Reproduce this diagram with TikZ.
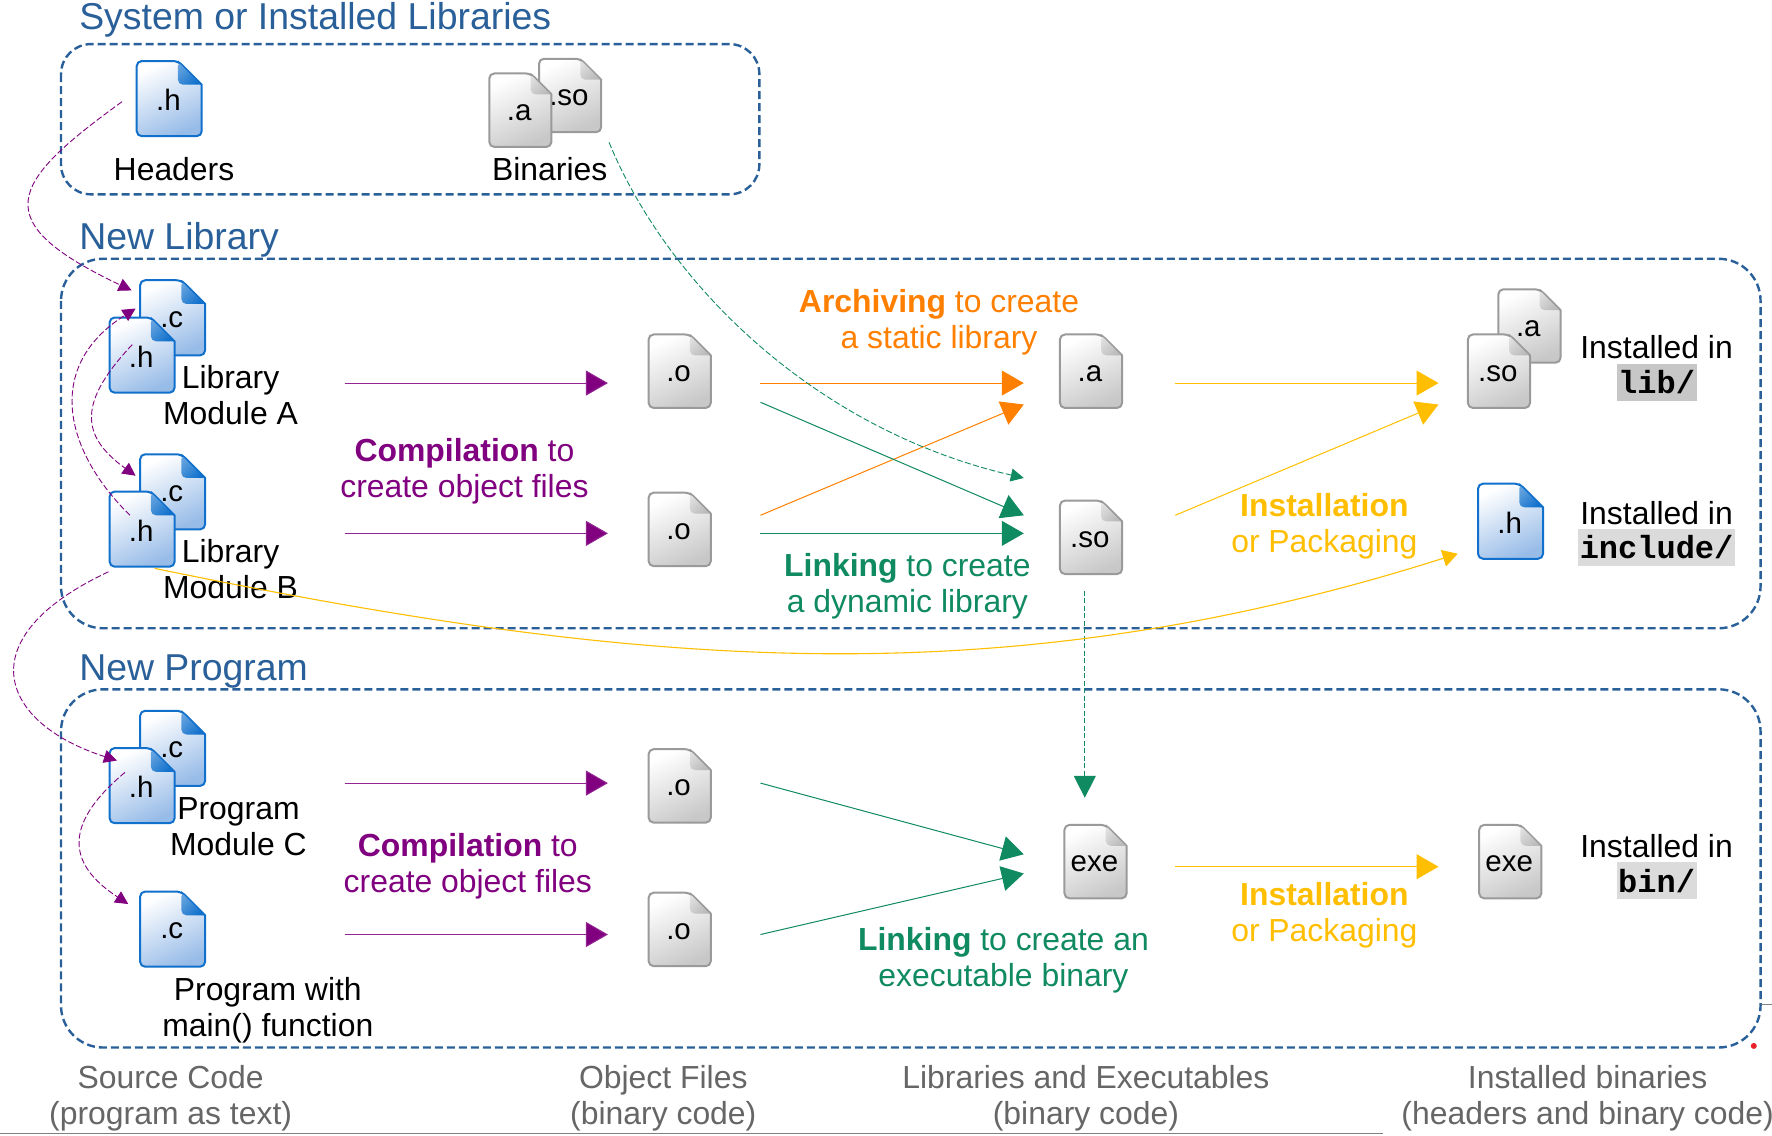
\documentclass[tikz,border=0pt]{standalone}
\usepackage{fontspec}
\setmainfont{Liberation Sans}
\setmonofont{Liberation Mono}
\usetikzlibrary{arrows.meta}
\definecolor{boxblue}{HTML}{2A6099}
\definecolor{purp}{HTML}{800080}
\definecolor{orng}{HTML}{FF8000}
\definecolor{grn}{HTML}{108A60}
\definecolor{yel}{HTML}{FFBF00}
\definecolor{capgray}{HTML}{666666}
\definecolor{iconblue}{HTML}{1070CC}
\definecolor{iconfill}{HTML}{98BCE8}
\definecolor{icongray}{HTML}{9A9A9A}
\definecolor{grayfill}{HTML}{C8C8C8}
\definecolor{dotred}{HTML}{EA2027}
\tikzset{
  txt/.style={inner sep=0pt,align=center,font=\fontsize{31.9}{36}\selectfont,text=black},
  headtxt/.style={inner sep=0pt,anchor=base west,font=\fontsize{37.4}{40}\selectfont,text=boxblue},
  captxt/.style={txt,text=capgray},
  ptxt/.style={txt,text=purp},
  otxt/.style={txt,text=orng},
  gtxt/.style={txt,text=grn},
  ytxt/.style={txt,text=yel},
  monotxt/.style={inner xsep=1.5pt,inner ysep=0pt,minimum height=37pt,font=\fontsize{32}{36}\selectfont\ttfamily\bfseries,text=black},
  iconlab/.style={inner sep=0pt,font=\fontsize{29.5}{32}\selectfont,text=black},
  groupbox/.style={draw=boxblue,line width=2.4pt,dash pattern=on 8pt off 4pt},
  flow/.style={line width=1pt,-{Triangle[length=22pt,width=25pt]}},
  thinflow/.style={line width=1.1pt,-{Triangle[length=15pt,width=17pt]}},
  dep/.style={line width=0.9pt,dash pattern=on 6pt off 2.5pt,-{Triangle[length=13pt,width=13pt]}},
  x=1.13pt,y=-1.13pt
}
\newcommand{\iconbody}[7]{% w h f outline fill foldlight folddark
  \shade[top color=white,bottom color=#5,shading angle=25]
    [rounded corners=5pt] (0,0) -- (#1-#3,0) {[sharp corners] -- (#1,#3)} -- (#1,#2) -- (0,#2) -- cycle;
  \draw[#4,line width=2pt,rounded corners=5pt,line join=round]
    (0,0) -- (#1-#3,0) {[sharp corners] -- (#1,#3)} -- (#1,#2) -- (0,#2) -- cycle;
  \shade[left color=#6,right color=#7,shading angle=45,rounded corners=5pt]
    (#1-#3,0) {[sharp corners] -- (#1,#3)} -- (#1-#3,#3) -- cycle;
  \draw[#4,line width=1pt,line join=round] (#1-#3,0) -- (#1,#3);
}
\newcommand{\blueicon}[4]{%
  \begin{scope}[shift={(#2,#3)}]
    \iconbody{57.5}{66.5}{21}{iconblue}{iconfill}{iconblue!65!white}{iconblue}
    \node[iconlab] (#1) at (28,34.5) {#4};
  \end{scope}}
\newcommand{\grayicon}[4]{%
  \begin{scope}[shift={(#2,#3)}]
    \iconbody{55}{65}{18.5}{icongray}{grayfill}{gray!25!white}{gray!55!white}
    \node[iconlab] (#1) at (26.5,34.5) {#4};
  \end{scope}}
\begin{document}
\begin{tikzpicture}
\useasboundingbox (0,0) rectangle (1568.14,1005.31);
\fill[white] (0,0) rectangle (1568.14,1005.31);
% group boxes
\draw[groupbox,rounded corners=30pt] (54,39) rectangle (672,172);
\draw[groupbox,rounded corners=42pt] (54,229) rectangle (1558,556);
\draw[groupbox,rounded corners=42pt] (54,610) rectangle (1558,927);
\node[headtxt] (hsys) at (70,26.5) {System or Installed Libraries};
\node[headtxt] (hlib) at (70,220.6) {New Library};
\node[headtxt] (hprog) at (70,601.8) {New Program};
% icons
\blueicon{sysh}{121}{54}{.h}
\grayicon{sysso}{477}{52}{.so}
\grayicon{sysa}{433}{65}{.a}
\blueicon{ca}{124}{248}{.c}
\blueicon{ha}{97}{281}{.h}
\blueicon{cb}{124}{402}{.c}
\blueicon{hb}{97}{435}{.h}
\blueicon{cc}{124}{629}{.c}
\blueicon{hc}{97}{662}{.h}
\blueicon{cmain}{124}{789}{.c}
\grayicon{oa}{574}{296}{.o}
\grayicon{ob}{574}{436}{.o}
\grayicon{oc}{574}{663}{.o}
\grayicon{od}{574}{790}{.o}
\grayicon{liba}{938}{296}{.a}
\grayicon{libso}{938}{443}{.so}
\grayicon{exe}{942}{730}{exe}
\grayicon{insta}{1326}{256}{.a}
\grayicon{instso}{1299}{296}{.so}
\blueicon{insth}{1308}{428}{.h}
\grayicon{instexe}{1309}{730}{exe}
% labels
\node[txt] (lh) at (154,150) {Headers};
\node[txt] (lb) at (486.5,150) {Binaries};
\node[txt] (lma) at (204,350) {Library\\Module A};
\node[txt] (lmb) at (204,504) {Library\\Module B};
\node[txt] (lmc) at (211,732) {Program\\Module C};
\node[txt] (lmain) at (237,894) {Program with\\main() function};
\node[ptxt] (comp1) at (411,417) {\textbf{Compilation} to\\create object files};
\node[ptxt] (comp2) at (414,767) {\textbf{Compilation} to\\create object files};
\node[otxt] (arch) at (831,285.5) {\textbf{Archiving} to create\\a static library};
\node[gtxt] (link1) at (803,519) {\textbf{Linking} to create\\a dynamic library};
\node[gtxt] (link2) at (888,850) {\textbf{Linking} to create an\\executable binary};
\node[ytxt] (inst1) at (1172,466) {\textbf{Installation}\\or Packaging};
\node[ytxt] (inst2) at (1172,810) {\textbf{Installation}\\or Packaging};
\node[txt] (il) at (1466,307.5) {Installed in};
\node[monotxt,fill=black!22] (ilm) at (1466,338.5) {lib/};
\node[txt] (ii) at (1466,454) {Installed in};
\node[monotxt,fill=black!14] (iim) at (1466,484.5) {include/};
\node[txt] (ib) at (1466,749) {Installed in};
\node[monotxt,fill=black!14] (ibm) at (1466,779.5) {bin/};
\node[captxt] (c1) at (151,972) {Source Code\\(program as text)};
\node[captxt] (c2) at (587,972) {Object Files\\(binary code)};
\node[captxt] (c3) at (961,972) {Libraries and Executables\\(binary code)};
\node[captxt] (c4) at (1405,972) {Installed binaries\\(headers and binary code)};
% connector ends
\foreach \n/\x/\y in {p1s/305/339,p1e/538/339,p2s/305/472,p2e/538/472,p3s/305/693,p3e/538/693,p4s/305/827,p4e/538/827,
  o1s/673/339,o1e/906/339,o2s/673/456,o2e/906/358,g1s/673/356,g1e/906/456,g2s/673/472,g2e/906/472,
  y1s/1040/339,y1e/1273/339,y2s/1040/456,y2e/1273/358,g3s/673/693,g3e/906/756,g4s/673/827,g4e/906/773,
  y3s/1040/767,y3e/1273/767,v1s/960/523,v1e/960/706,yc1s/137/503,yc1e/1290/490,
  d1s/108/90,d1e/116.5/257,d2s/115/456,d2e/120/273,d3s/117/305,d3e/120/421,d4s/96/506,d4e/103.5/673,d5s/110.6/683.5,d5e/113.5/800,
  gcs/539/126,gce/906/423,
  ruleL/0/1003,ruleR/1224/1003,tickL/1558/889,tickR/1568.14/889}
  {\coordinate (\n) at (\x,\y);}
% straight connectors
\draw[flow,purp!85!white,-{Triangle[length=22pt,width=25pt,fill=purp]}] (p1s) -- (p1e);
\draw[flow,purp!85!white,-{Triangle[length=22pt,width=25pt,fill=purp]}] (p2s) -- (p2e);
\draw[flow,purp!85!white,-{Triangle[length=22pt,width=25pt,fill=purp]}] (p3s) -- (p3e);
\draw[flow,purp!85!white,-{Triangle[length=22pt,width=25pt,fill=purp]}] (p4s) -- (p4e);
\draw[flow,orng] (o1s) -- (o1e);
\draw[flow,orng] (o2s) -- (o2e);
\draw[flow,grn] (g1s) -- (g1e);
\draw[flow,grn] (g2s) -- (g2e);
\draw[flow,grn] (g3s) -- (g3e);
\draw[flow,grn] (g4s) -- (g4e);
\draw[flow,yel] (y1s) -- (y1e);
\draw[flow,yel] (y2s) -- (y2e);
\draw[flow,yel] (y3s) -- (y3e);
\draw[grn,line width=0.9pt,dash pattern=on 5pt off 2.5pt,-{Triangle[length=22pt,width=22pt]}] (v1s) -- (v1e);
\draw[thinflow,yel] (yc1s) .. controls (560,590) and (880,620) .. (yc1e);
% dashed curves
\draw[dep,purp] (d1s) .. controls (7,163) and (-12,196) .. (d1e);
\draw[dep,purp] (d2s) .. controls (58,400) and (38,325) .. (d2e);
\draw[dep,purp] (d3s) .. controls (70,355) and (70,385) .. (d3e);
\draw[dep,purp] (d4s) .. controls (-30,565) and (0,640) .. (d4e);
\draw[dep,purp] (d5s) .. controls (55,730) and (60,765) .. (d5e);
\draw[dep,grn] (gcs) .. controls (590,250) and (720,380) .. (gce);
% page furniture
\draw[gray,line width=1.2pt] (ruleL) -- (ruleR);
\draw[gray,line width=1pt] (tickL) -- (tickR);
\fill[dotred] (1552,925.6) circle (3pt);
\end{tikzpicture}
\end{document}
